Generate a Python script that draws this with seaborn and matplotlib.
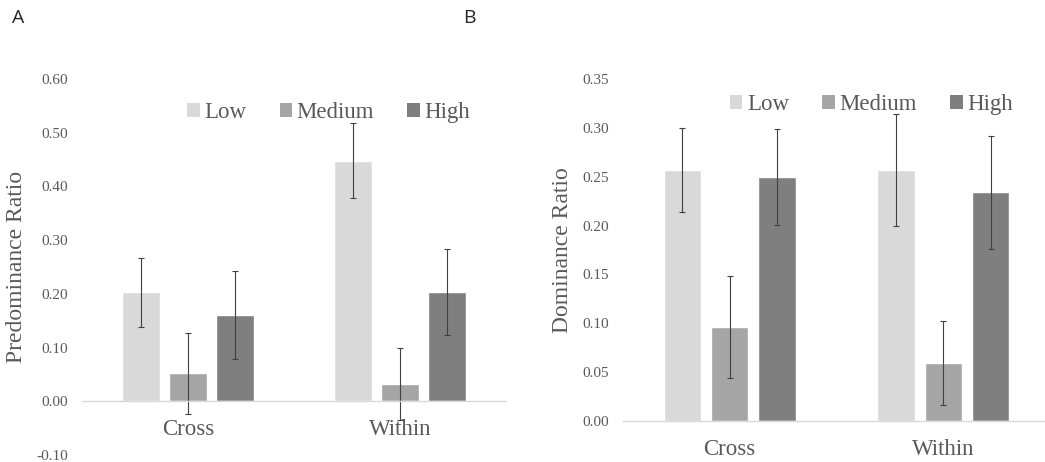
import pandas as pd
import matplotlib
matplotlib.use("Agg")
import matplotlib.pyplot as plt
import seaborn as sns
from matplotlib.patches import Patch

# valores (médias e meia-amplitude das barras de erro)
conditions = ["Cross", "Within"]
levels = ["Low", "Medium", "High"]

pred_low = [0.203, 0.448]
pred_medium = [0.052, 0.033]
pred_high = [0.160, 0.204]
pred_err_low = [0.064, 0.070]
pred_err_medium = [0.075, 0.067]
pred_err_high = [0.082, 0.080]

dom_low = [0.257, 0.257]
dom_medium = [0.096, 0.059]
dom_high = [0.250, 0.234]
dom_err_low = [0.043, 0.057]
dom_err_medium = [0.052, 0.043]
dom_err_high = [0.049, 0.058]

pred_ticks = [-0.10, 0.00, 0.10, 0.20, 0.30, 0.40, 0.50, 0.60]
dom_ticks = [0.00, 0.05, 0.10, 0.15, 0.20, 0.25, 0.30, 0.35]

colors = ["#d9d9d9", "#a5a5a5", "#7f7f7f"]
text_grey = "#595959"
serif = ["Liberation Serif", "DejaVu Serif"]


def long_table(low, medium, high):
    rows = []
    for lvl, vals in zip(levels, [low, medium, high]):
        for cond, v in zip(conditions, vals):
            rows.append({"cond": cond, "level": lvl, "value": v})
    return pd.DataFrame(rows)


def draw_panel(ax, df, errs, ticks, ylabel, label_x, legend_y):
    sns.barplot(data=df, x="cond", y="value", hue="level", hue_order=levels,
                order=conditions, palette=colors, width=0.666, gap=0.21,
                errorbar=None, legend=False, saturation=1, ax=ax)
    # barras de erro desenhadas por cima das barras do seaborn
    for cont, err in zip(ax.containers, errs):
        xs = [p.get_x() + p.get_width() / 2 for p in cont.patches]
        ys = [p.get_height() for p in cont.patches]
        ax.errorbar(xs, ys, yerr=err, fmt="none", ecolor="#404040",
                    elinewidth=0.8, capsize=2.5, capthick=0.8)

    # eixo horizontal no zero (tem de vir antes dos ticks, senão reinicia)
    for s in ["top", "right", "left"]:
        ax.spines[s].set_visible(False)
    ax.spines["bottom"].set_position(("data", 0))
    ax.spines["bottom"].set_color("#d9d9d9")
    ax.spines["bottom"].set_linewidth(1)

    ax.set_xlim(-0.5, 1.5)
    ax.set_ylim(ticks[0], ticks[-1])
    ax.set_yticks(ticks)
    ax.set_yticklabels([f"{t:.2f}" for t in ticks], fontfamily=serif,
                       fontsize=11, color=text_grey)
    ax.set_xticks([0, 1])
    ax.set_xticklabels(conditions, fontfamily=serif, fontsize=16.5,
                       color=text_grey)
    ax.tick_params(axis="y", length=0, pad=10)
    ax.tick_params(axis="x", length=0, pad=13)
    ax.set_xlabel("")
    ax.set_ylabel(ylabel, fontfamily=serif, fontsize=17, color=text_grey)
    ax.yaxis.set_label_coords(label_x, 0.5)

    handles = [Patch(facecolor=c, edgecolor="none", label=l)
               for c, l in zip(colors, levels)]
    leg = ax.legend(handles=handles, ncol=3, loc="center",
                    bbox_to_anchor=(0.582, legend_y), frameon=False,
                    handlelength=0.55, handleheight=0.55, handletextpad=0.2,
                    columnspacing=1.45, borderpad=0,
                    prop={"family": serif, "size": 16.5})
    for t in leg.get_texts():
        t.set_color(text_grey)


def main():
    sns.set_theme(style="white")
    fig = plt.figure(figsize=(10.45, 4.62), dpi=100)

    ax1 = fig.add_axes([82 / 1045, 7 / 462, 424 / 1045, 376 / 462])
    ax2 = fig.add_axes([623 / 1045, 41 / 462, 427 / 1045, 342 / 462])

    draw_panel(ax1, long_table(pred_low, pred_medium, pred_high),
               [pred_err_low, pred_err_medium, pred_err_high],
               pred_ticks, "Predominance Ratio", -0.130, 0.910)
    draw_panel(ax2, long_table(dom_low, dom_medium, dom_high),
               [dom_err_low, dom_err_medium, dom_err_high],
               dom_ticks, "Dominance Ratio", -0.117, 0.924)

    fig.text(12 / 1045, 1 - 18 / 462, "A", fontsize=14,
             fontfamily=["Open Sans", "DejaVu Sans"], va="center", ha="left")
    fig.text(463 / 1045, 1 - 18 / 462, "B", fontsize=14,
             fontfamily=["Open Sans", "DejaVu Sans"], va="center", ha="left")

    fig.savefig("out.png", dpi=100)


if __name__ == "__main__":
    main()
